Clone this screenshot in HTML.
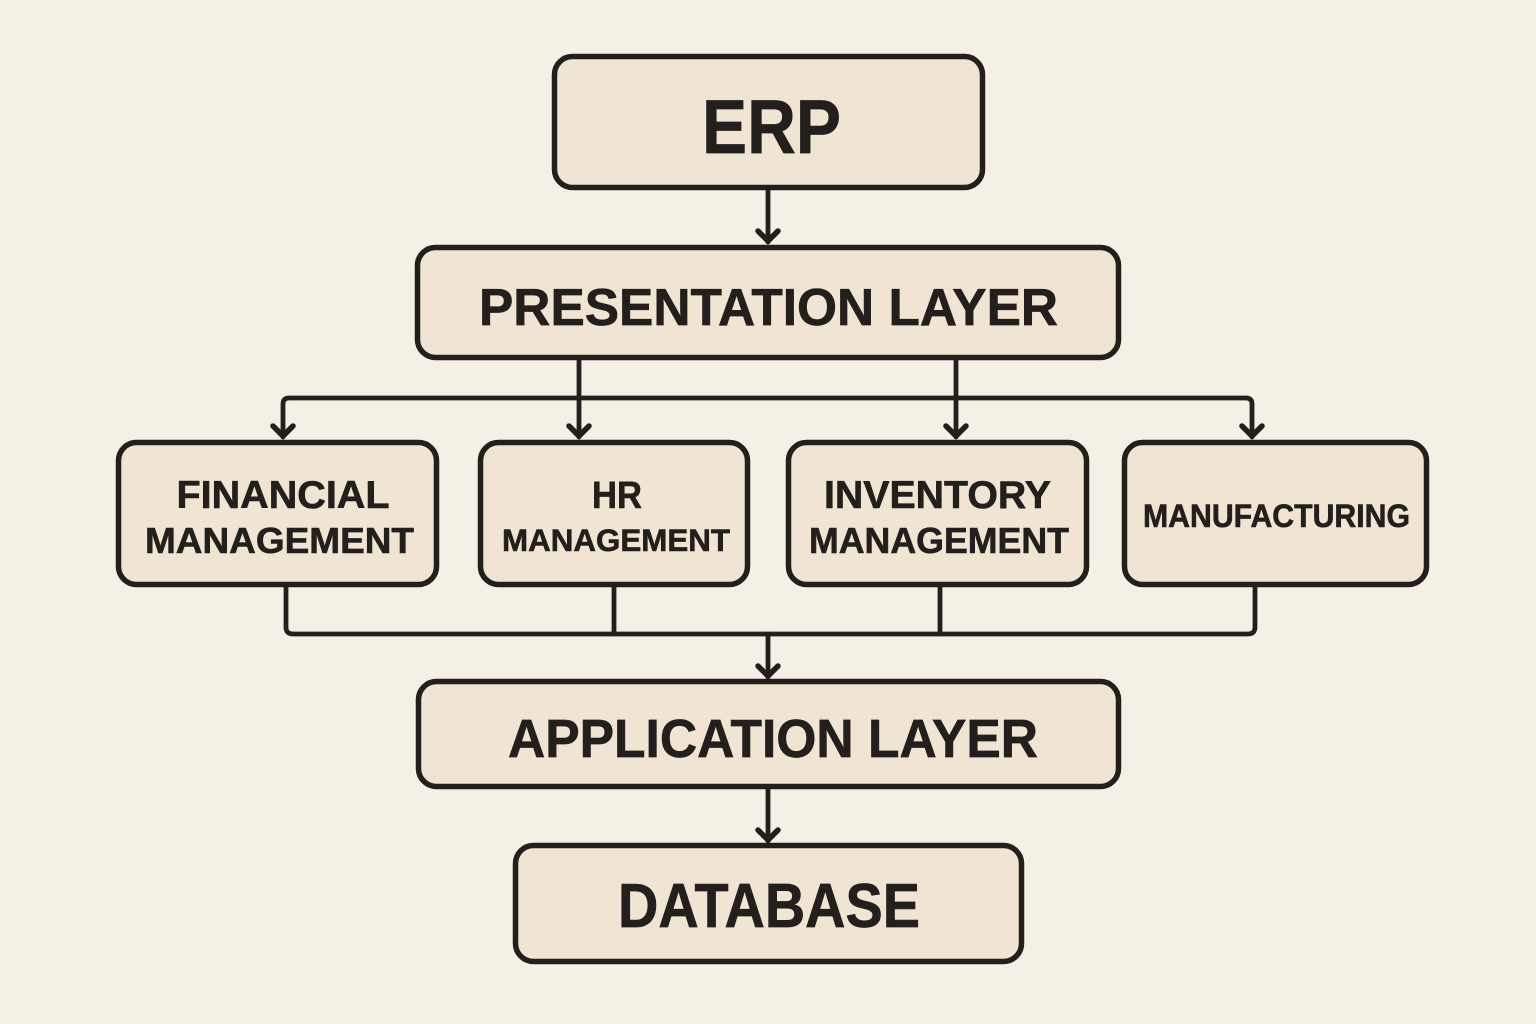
<!DOCTYPE html>
<html><head><meta charset="utf-8"><style>
html,body{margin:0;padding:0;background:#f5f0e6;}
svg{display:block;}
text{font-family:"Liberation Sans",sans-serif;font-weight:bold;fill:#231f1c;stroke:#231f1c;stroke-width:0.6;}
</style></head><body>
<svg width="1536" height="1024" viewBox="0 0 1536 1024" xmlns="http://www.w3.org/2000/svg">
<rect x="0" y="0" width="1536" height="1024" fill="#f5f0e6"/>
<g fill="#f0e5d2" stroke="#231f1c" stroke-width="5.5">
  <rect x="554.5" y="56.5" width="428" height="131" rx="18"/>
  <rect x="417.5" y="247.5" width="701" height="110" rx="18"/>
  <rect x="118.5" y="442.5" width="318" height="142" rx="18"/>
  <rect x="480.5" y="442.5" width="267" height="142" rx="18"/>
  <rect x="788.5" y="442.5" width="298" height="142" rx="18"/>
  <rect x="1124.5" y="442.5" width="302" height="142" rx="18"/>
  <rect x="418.5" y="681.5" width="700" height="105" rx="18"/>
  <rect x="515.5" y="845.5" width="506" height="116" rx="18"/>
</g>
<g fill="none" stroke="#231f1c" stroke-width="4.8" stroke-linecap="round" stroke-linejoin="round">
  <line x1="768" y1="190" x2="768" y2="242"/>
  <line x1="579" y1="360" x2="579" y2="437"/>
  <line x1="956" y1="360" x2="956" y2="437"/>
  <path d="M283,437 L283,404 Q283,398 289,398 L1246,398 Q1252,398 1252,404 L1252,437"/>
  <path d="M286,587 L286,627 Q286,634 293,634 L1248,634 Q1255,634 1255,627 L1255,587"/>
  <line x1="614" y1="587" x2="614" y2="634"/>
  <line x1="940" y1="587" x2="940" y2="634"/>
  <line x1="768" y1="634" x2="768" y2="677"/>
  <line x1="768" y1="789" x2="768" y2="841"/>
</g>
<g fill="none" stroke="#231f1c" stroke-width="5.5" stroke-linecap="round" stroke-linejoin="round">
  <polyline points="758,231 768,241 778,231"/>
  <polyline points="569,426 579,436 589,426"/>
  <polyline points="946,426 956,436 966,426"/>
  <polyline points="273,426 283,436 293,426"/>
  <polyline points="1242,426 1252,436 1262,426"/>
  <polyline points="758,666 768,676 778,666"/>
  <polyline points="758,830 768,840 778,830"/>
</g>
<text transform="translate(771.5,153) scale(1,1.14)" font-size="67" text-anchor="middle" textLength="139" lengthAdjust="spacingAndGlyphs">ERP</text>
<text transform="translate(768.5,325) scale(1,1.05)" font-size="49.5" text-anchor="middle" textLength="579" lengthAdjust="spacingAndGlyphs">PRESENTATION LAYER</text>
<text x="283" y="508" font-size="38.5" text-anchor="middle" textLength="213" lengthAdjust="spacingAndGlyphs">FINANCIAL</text>
<text x="279.5" y="553" font-size="36.5" text-anchor="middle" textLength="269" lengthAdjust="spacingAndGlyphs">MANAGEMENT</text>
<text x="617" y="508" font-size="38" text-anchor="middle" textLength="50" lengthAdjust="spacingAndGlyphs">HR</text>
<text x="616" y="551" font-size="31.5" text-anchor="middle" textLength="228" lengthAdjust="spacingAndGlyphs">MANAGEMENT</text>
<text x="937.5" y="508" font-size="39" text-anchor="middle" textLength="227" lengthAdjust="spacingAndGlyphs">INVENTORY</text>
<text x="939" y="553" font-size="36.5" text-anchor="middle" textLength="260" lengthAdjust="spacingAndGlyphs">MANAGEMENT</text>
<text x="1276.5" y="527" font-size="32" text-anchor="middle" textLength="267" lengthAdjust="spacingAndGlyphs">MANUFACTURING</text>
<text transform="translate(773,757) scale(1,1.05)" font-size="51" text-anchor="middle" textLength="530" lengthAdjust="spacingAndGlyphs">APPLICATION LAYER</text>
<text transform="translate(769,927) scale(1,1.13)" font-size="55" text-anchor="middle" textLength="302" lengthAdjust="spacingAndGlyphs">DATABASE</text>
</svg>
</body></html>
